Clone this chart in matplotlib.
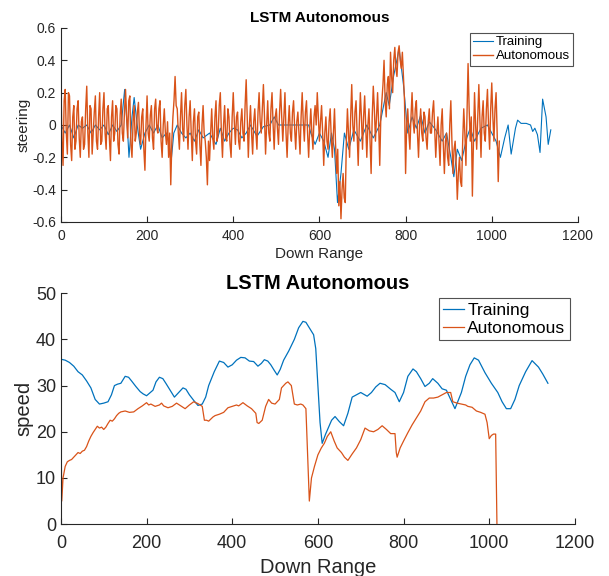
import numpy as np
import matplotlib.pyplot as plt

plt.rcParams['font.family'] = ['Liberation Sans', 'DejaVu Sans']

blue = '#0072BD'
orange = '#D95319'
axcol = '#262626'

# --- steering (top), autonomous sampled every 2.5 down-range units ---
auto_steer = [
    0.27, -0.1, -0.25, 0.15, 0.22, -0.05, -0.18, 0.2, 0.18, -0.12, -0.22, 0.05, 0.12, -0.15, -0.1, 0.1, 0.15, -0.08, -0.2, 0.02,
    0.05, -0.15, -0.12, 0.1, 0.24, -0.05, -0.2, 0.12, 0.1, -0.18, -0.05, 0.08, 0.18, -0.1, -0.15, 0.05, 0.2, -0.12, -0.1, 0.1,
    0.2, -0.05, -0.15, 0.1, 0.12, -0.08, -0.22, 0.05, 0.15, -0.1, -0.05, 0.12, 0.1, -0.12, -0.18, 0.06, 0.16, -0.05, -0.1, 0.08,
    0.22, 0.05, -0.08, 0.15, 0.18, -0.12, -0.2, 0.02, 0.12, -0.1, -0.05, 0.08, 0.14, -0.06, -0.12, 0.05, 0.1, -0.15, -0.28, 0.0,
    0.18, -0.05, -0.1, 0.06, 0.12, -0.08, -0.15, 0.1, 0.16, -0.02, -0.05, 0.1, 0.15, -0.1, -0.2, 0.0, 0.1, -0.05, -0.12, 0.02,
    -0.2, -0.05, -0.37, -0.1, 0.05, 0.15, 0.3, 0.12, 0.1, -0.05, -0.15, 0.05, 0.2, -0.02, -0.1, 0.12, 0.22, 0.0, -0.15, 0.05,
    0.15, -0.05, -0.22, 0.02, 0.1, -0.1, -0.18, 0.05, 0.08, -0.12, -0.25, 0.0, 0.12, -0.05, -0.1, -0.2, -0.37, -0.1, -0.22, -0.05,
    0.1, -0.08, -0.15, 0.05, 0.15, -0.1, -0.05, 0.12, 0.2, -0.05, -0.2, 0.0, 0.12, -0.08, -0.1, 0.1, 0.05, -0.12, -0.2, 0.05,
    0.2, 0.02, -0.12, 0.05, 0.08, -0.1, -0.15, 0.02, 0.1, -0.05, -0.1, 0.12, 0.28, 0.05, -0.2, 0.0, 0.12, -0.05, -0.18, 0.02,
    0.1, -0.05, -0.15, 0.08, 0.2, 0.02, -0.05, 0.1, 0.25, 0.05, -0.18, 0.0, 0.15, -0.05, -0.1, 0.1, 0.2, 0.0, -0.15, 0.05,
    0.1, -0.02, -0.12, 0.08, 0.22, 0.05, -0.1, 0.05, 0.2, -0.05, -0.2, 0.0, 0.12, -0.05, -0.1, 0.08, 0.15, -0.02, -0.15, 0.02,
    0.08, -0.05, -0.18, 0.05, 0.2, 0.02, -0.1, 0.08, 0.15, -0.05, -0.2, -0.02, 0.1, -0.05, -0.15, 0.05, 0.12, 0.0, 0.2, 0.05,
    -0.1, 0.02, 0.12, -0.05, -0.25, -0.05, 0.05, -0.1, -0.15, 0.02, 0.1, -0.08, -0.2, -0.05, 0.1, -0.12, -0.3, -0.15, -0.5, -0.35,
    -0.58, -0.4, -0.3, -0.45, -0.48, -0.1, 0.1, -0.05, -0.2, 0.05, 0.25, 0.0, -0.1, 0.08, 0.15, -0.05, -0.25, 0.0, 0.2, 0.05,
    -0.15, 0.05, 0.18, -0.02, -0.2, 0.0, 0.1, -0.1, -0.3, 0.05, 0.24, 0.1, -0.1, 0.05, 0.2, 0.0, -0.25, 0.05, 0.15, 0.25,
    0.4, 0.15, 0.05, 0.25, 0.3, 0.1, 0.45, 0.3, 0.2, 0.4, 0.48, 0.35, 0.3, 0.45, 0.49, 0.4, 0.35, 0.45, 0.3, 0.15,
    -0.3, 0.0, 0.1, -0.05, -0.15, 0.05, 0.2, 0.02, -0.05, 0.1, 0.15, -0.05, -0.2, 0.0, 0.1, -0.05, -0.1, 0.08, 0.05, -0.08,
    -0.15, 0.02, 0.1, -0.05, -0.05, 0.08, 0.15, -0.02, -0.2, -0.05, 0.05, -0.1, -0.25, 0.0, 0.1, -0.12, -0.3, -0.1, -0.05, -0.2,
    -0.25, 0.0, 0.15, -0.1, -0.3, -0.15, -0.1, -0.25, -0.46, -0.3, -0.2, -0.35, -0.38, -0.1, 0.1, -0.05, -0.25, 0.05, 0.38, 0.1,
    -0.1, 0.05, -0.44, -0.1, 0.2, 0.0, -0.15, 0.05, 0.25, 0.02, -0.2, 0.05, 0.15, -0.05, -0.1, 0.1, 0.22, 0.0, -0.15, 0.1,
    0.26, 0.05, -0.1, 0.1, 0.2, -0.05, -0.35, -0.1,
]
auto_steer_x = np.arange(len(auto_steer)) * 2.5

train_steer_x = [0, 10, 20, 30, 40, 50, 60, 70, 80, 90, 100, 110, 120, 130, 140, 148, 155, 158,
                 165, 170, 178, 185, 195, 205, 215, 225, 235, 245, 250, 256, 262, 270, 280, 290,
                 300, 310, 320, 330, 345, 360, 370, 380, 390, 400, 410, 420, 430, 440, 455, 470,
                 485, 495, 505, 520, 540, 560, 575, 580, 590, 600, 610, 620, 628, 635, 642, 650,
                 658, 668, 680, 695, 710, 725, 740, 755, 762, 772, 785, 795, 805, 815, 825, 835,
                 845, 855, 870, 885, 895, 905, 912, 920, 930, 942, 950, 960, 975, 990, 1000, 1010,
                 1020, 1030, 1038, 1045, 1055, 1060, 1068, 1080, 1090, 1095, 1100, 1106, 1112,
                 1118, 1126, 1131, 1137]
train_steer = [0.0, -0.05, 0.0, -0.08, 0.0, -0.02, 0.0, -0.05, 0.0, -0.03, 0.0, -0.06, 0.0, -0.04,
               0.0, 0.22, -0.05, -0.2, 0.05, 0.17, -0.02, -0.15, -0.05, 0.0, -0.05, 0.0, -0.08,
               -0.05, -0.1, -0.22, -0.05, 0.0, -0.05, -0.08, -0.05, -0.1, -0.03, -0.08, -0.05,
               -0.12, -0.02, -0.1, -0.05, -0.02, -0.03, -0.08, -0.05, 0.0, -0.07, -0.01, 0.0,
               0.05, 0.0, 0.0, 0.0, 0.0, 0.0, -0.05, -0.12, -0.05, -0.1, -0.2, -0.05, -0.15,
               -0.48, -0.3, -0.05, -0.15, -0.03, -0.1, 0.0, -0.08, 0.0, 0.2, 0.12, 0.3, 0.47,
               0.25, -0.05, 0.05, -0.02, 0.06, -0.05, 0.02, -0.03, -0.1, -0.05, -0.2, -0.32,
               -0.15, -0.22, -0.08, -0.02, -0.1, -0.02, 0.0, -0.05, -0.1, -0.2, -0.08, 0.0,
               -0.18, -0.02, 0.03, 0.01, 0.01, 0.0, -0.04, -0.02, -0.06, -0.17, 0.16, 0.05,
               -0.12, -0.03]

# --- speed (bottom) ---
train_speed_x = [0, 10, 20, 30, 40, 50, 60, 70, 80, 90, 100, 110, 118, 125, 132, 140, 150, 158,
                 165, 175, 185, 192, 200, 215, 222, 230, 238, 245, 255, 265, 275, 285, 292, 300,
                 310, 320, 330, 338, 345, 358, 370, 380, 390, 400, 410, 420, 430, 440, 450, 460,
                 468, 475, 483, 490, 498, 505, 512, 520, 532, 545, 555, 565, 572, 580, 590, 595,
                 600, 605, 610, 618, 625, 632, 640, 650, 660, 670, 680, 690, 700, 715, 725, 735,
                 745, 757, 770, 780, 790, 800, 810, 822, 830, 840, 850, 860, 868, 880, 890, 900,
                 910, 920, 935, 945, 955, 965, 975, 990, 1005, 1020, 1030, 1040, 1050, 1060, 1070,
                 1085, 1100, 1115, 1125, 1137]
train_speed = [35.7, 35.5, 35, 34.2, 33, 32.3, 31, 29.5, 27, 26, 26.2, 26.5, 28, 30, 30.3, 30.5,
               32, 31.8, 31, 29.8, 28.7, 28.2, 27.8, 29, 30.8, 31.8, 31.5, 30.5, 29, 27.5, 28.5,
               29.5, 29.2, 28, 26.8, 25.7, 26, 27.5, 30, 33, 35.3, 35, 34, 34.5, 35.5, 36.1, 36,
               35.3, 35.2, 34.2, 34.8, 35.6, 35.3, 34.5, 33.3, 32.3, 33.5, 35.5, 37.5, 40, 42.5,
               43.9, 43.7, 42.5, 41, 38, 30, 22, 17.5, 19.5, 21, 22.5, 23.3, 22.2, 21.3, 24, 27.5,
               28, 28.5, 27.7, 28.5, 29.7, 30.5, 30.2, 29.2, 28.5, 26.5, 28.5, 32, 33.6, 33, 31.5,
               29.8, 30.5, 31.5, 30.5, 29.3, 29, 27, 25, 28.5, 32, 34.5, 36, 35.5, 32.8, 30.5,
               28.5, 26.5, 25, 25, 27, 30, 33, 35.4, 34, 32.5, 30.5]

auto_speed_x = [0, 1, 2, 5, 10, 15, 20, 25, 30, 35, 40, 45, 50, 55, 60, 65, 70, 75, 80, 85, 90,
                95, 100, 105, 110, 115, 120, 125, 130, 135, 140, 150, 160, 170, 180, 190, 200,
                205, 210, 220, 230, 235, 240, 250, 260, 270, 280, 290, 300, 310, 320, 330, 335,
                340, 345, 355, 360, 370, 380, 390, 400, 410, 415, 425, 435, 445, 455, 458, 462,
                470, 478, 485, 492, 500, 510, 515, 525, 530, 538, 545, 552, 560, 565, 572, 580,
                585, 592, 600, 608, 615, 622, 630, 638, 645, 655, 662, 670, 680, 690, 700, 710,
                720, 730, 740, 750, 760, 770, 780, 783, 785, 792, 800, 810, 820, 830, 840, 850,
                860, 870, 880, 890, 900, 910, 915, 925, 935, 945, 950, 960, 970, 980, 990, 995,
                1000, 1005, 1010, 1015, 1018]
auto_speed = [0, 14, 5, 10, 12.5, 13.5, 13.8, 14, 14.5, 15, 15.5, 15.3, 15.8, 16, 16.8, 18, 19,
              19.8, 20.5, 21.2, 20.8, 21, 20.5, 21, 21.8, 22.5, 22.3, 22.8, 23.5, 24, 24.3, 24.5,
              24.2, 24.3, 25, 25.6, 26.3, 25.8, 26, 25.5, 25.8, 26.2, 25.6, 25.2, 25.5, 26.2,
              25.6, 25, 25.8, 26.5, 26.1, 25.5, 22.5, 22.5, 22.3, 23.2, 23.5, 23.8, 24.2, 25.2,
              25.5, 25.8, 25.6, 26.3, 25.6, 25, 24, 22, 21.8, 22.5, 25.5, 27, 26.2, 26, 27, 29.5,
              30.5, 30.8, 30, 26, 25.8, 26, 25.8, 25, 5, 10, 12.5, 15, 16.5, 17.5, 19, 20, 18,
              16.5, 15.5, 14.5, 13.8, 15.2, 16.5, 18.3, 20.8, 20.2, 20, 20.5, 21.3, 20.5, 19.6,
              19.6, 15.5, 14.5, 16.5, 18, 19.8, 21.5, 23, 24.5, 26.5, 27.3, 27.3, 27.5, 28, 28.5,
              28.5, 26.5, 26.2, 26, 25.8, 25.5, 25.3, 24.5, 24.2, 23.8, 22, 18.5, 19.2, 19.5,
              19.5, 0]


def style_axes(ax, size, xpad):
    for s in ['top', 'right']:
        ax.spines[s].set_visible(False)
    for s in ['left', 'bottom']:
        ax.spines[s].set_color(axcol)
        ax.spines[s].set_linewidth(0.8)
    ax.tick_params(direction='in', length=4, width=0.8, colors=axcol, labelsize=size,
                   labelcolor=axcol)
    ax.tick_params(axis='x', pad=xpad)


fig = plt.figure(figsize=(6.09, 5.76), dpi=100)

ax1 = fig.add_axes([0.100, 0.6146, 0.849, 0.3368])
ax1.plot(train_steer_x, train_steer, color=blue, lw=0.8, label='Training')
ax1.plot(auto_steer_x, auto_steer, color=orange, lw=1.0, label='Autonomous')
ax1.set_xlim(0, 1200)
ax1.set_ylim(-0.6, 0.6)
ax1.set_xticks(np.arange(0, 1201, 200))
ax1.set_yticks(np.arange(-0.6, 0.61, 0.2))
ax1.set_yticklabels(['-0.6', '-0.4', '-0.2', '0', '0.2', '0.4', '0.6'])
style_axes(ax1, 10, 5)
ax1.set_title('LSTM Autonomous', fontsize=11, fontweight='bold', pad=4)
ax1.set_xlabel('Down Range', fontsize=11, color=axcol, labelpad=3)
ax1.set_ylabel('steering', fontsize=11, color=axcol, labelpad=1)
leg1 = ax1.legend(loc='upper right', fontsize=9.5, frameon=True, fancybox=False,
                  handlelength=1.5, handletextpad=0.2, borderpad=0.25, labelspacing=0.15,
                  borderaxespad=0.35)
leg1.get_frame().set_edgecolor(axcol)
leg1.get_frame().set_linewidth(0.8)

ax2 = fig.add_axes([0.100, 0.090, 0.844, 0.401])
ax2.plot(train_speed_x, train_speed, color=blue, lw=0.9, label='Training')
ax2.plot(auto_speed_x, auto_speed, color=orange, lw=0.9, label='Autonomous')
ax2.set_xlim(0, 1200)
ax2.set_ylim(0, 50)
ax2.set_xticks(np.arange(0, 1201, 200))
ax2.set_yticks(np.arange(0, 51, 10))
style_axes(ax2, 13, 8)
ax2.set_title('LSTM Autonomous', fontsize=14.5, fontweight='bold', pad=3)
ax2.set_xlabel('Down Range', fontsize=14.5, color=axcol, labelpad=4)
ax2.set_ylabel('speed', fontsize=14.5, color=axcol, labelpad=2)
leg2 = ax2.legend(loc='upper right', fontsize=12.5, frameon=True, fancybox=False,
                  handlelength=1.2, handletextpad=0.2, borderpad=0.25, labelspacing=0.15,
                  borderaxespad=0.3)
leg2.get_frame().set_edgecolor(axcol)
leg2.get_frame().set_linewidth(0.8)

fig.savefig('out.png', dpi=100)
